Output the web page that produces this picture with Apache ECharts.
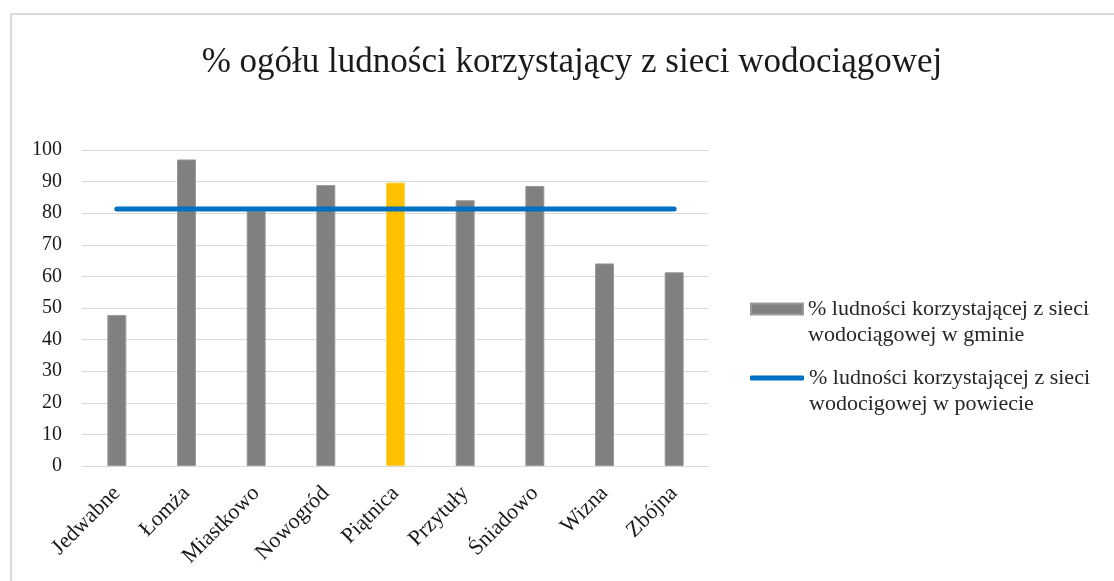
<!DOCTYPE html>
<html lang="pl">
<head>
    <meta charset="UTF-8">
    <title>% ogółu ludności korzystający z sieci wodociągowej</title>
    <script src="https://cdn.jsdelivr.net/npm/echarts@6.0.0/dist/echarts.min.js"></script>
    <style>
        html, body { margin: 0; padding: 0; background: #fff; }
        #frame { position: absolute; left: 10px; top: 13px; width: 1200px; height: 700px; border: 2px solid #d9d9d9; box-sizing: border-box; }
        #main { position: absolute; left: 0; top: 0; width: 1114px; height: 581px; }
    </style>
</head>
<body>
    <div id="frame"></div>
    <div id="main"></div>

    <script>
        // gminy
        var gminy = ['Jedwabne', 'Łomża', 'Miastkowo', 'Nowogród', 'Piątnica', 'Przytuły', 'Śniadowo', 'Wizna', 'Zbójna'];

        // % w gminie
        var gminaValues = [47.8, 97.0, 80.8, 88.9, 89.7, 84.1, 88.6, 64.1, 61.3];

        // % w powiecie (stała linia)
        var powiatValues = [81.3, 81.3, 81.3, 81.3, 81.3, 81.3, 81.3, 81.3, 81.3];

        // podświetlona gmina
        var highlighted = 'Piątnica';

        var barName = '% ludności korzystającej z sieci\nwodociągowej w gminie';
        var lineName = '% ludności korzystającej z sieci\nwodocigowej w powiecie';

        var font = '"Liberation Serif", "DejaVu Serif", serif';

        var chart = echarts.init(document.getElementById('main'));

        var barData = gminaValues.map(function (v, i) {
            if (gminy[i] === highlighted) {
                return { value: v, itemStyle: { color: '#FFC000', borderColor: '#FFD34D' } };
            }
            return v;
        });

        // pusta linia nad tekstem, żeby ikona stała przy pierwszym wierszu
        function legendText(name) {
            return ' \n' + name;
        }

        var legendStyle = { fontFamily: font, fontSize: 22, color: '#262626', lineHeight: 26 };

        var option = {
            animation: false,
            title: {
                text: '% ogółu ludności korzystający z sieci wodociągowej',
                left: 567,
                textAlign: 'center',
                top: 40,
                textStyle: { fontFamily: font, fontSize: 35, fontWeight: 'normal', color: '#1a1a1a' }
            },
            grid: { left: 82, right: 405, top: 150, bottom: 115, containLabel: false },
            legend: [
                {
                    orient: 'vertical',
                    left: 745,
                    top: 265,
                    itemWidth: 52,
                    itemHeight: 11,
                    itemGap: 0,
                    formatter: legendText,
                    textStyle: legendStyle,
                    data: [{ name: barName, icon: 'rect' }]
                },
                {
                    orient: 'vertical',
                    left: 745,
                    top: 334,
                    itemWidth: 54,
                    itemHeight: 5,
                    itemGap: 0,
                    formatter: legendText,
                    textStyle: legendStyle,
                    data: [{ name: lineName, icon: 'roundRect', itemStyle: { color: '#0070C0' } }]
                }
            ],
            xAxis: {
                type: 'category',
                data: gminy,
                axisLine: { lineStyle: { color: '#d9d9d9', width: 1 } },
                axisTick: { show: false },
                axisLabel: { rotate: 45, fontFamily: font, fontSize: 22, color: '#1a1a1a', margin: 24, interval: 0 }
            },
            yAxis: {
                type: 'value',
                min: 0,
                max: 100,
                interval: 10,
                axisLine: { show: false },
                axisTick: { show: false },
                splitLine: { lineStyle: { color: '#d9d9d9', width: 1 } },
                axisLabel: { fontFamily: font, fontSize: 20, color: '#1a1a1a', margin: 20 }
            },
            series: [
                {
                    name: barName,
                    type: 'bar',
                    barWidth: 19,
                    data: barData,
                    itemStyle: { color: '#808080', borderColor: '#9a9a9a', borderWidth: 1 }
                },
                {
                    name: lineName,
                    type: 'line',
                    data: powiatValues,
                    symbol: 'none',
                    lineStyle: { color: '#0070C0', width: 5, cap: 'round' },
                    itemStyle: { color: '#0070C0' }
                }
            ]
        };

        chart.setOption(option);
    </script>
</body>
</html>
